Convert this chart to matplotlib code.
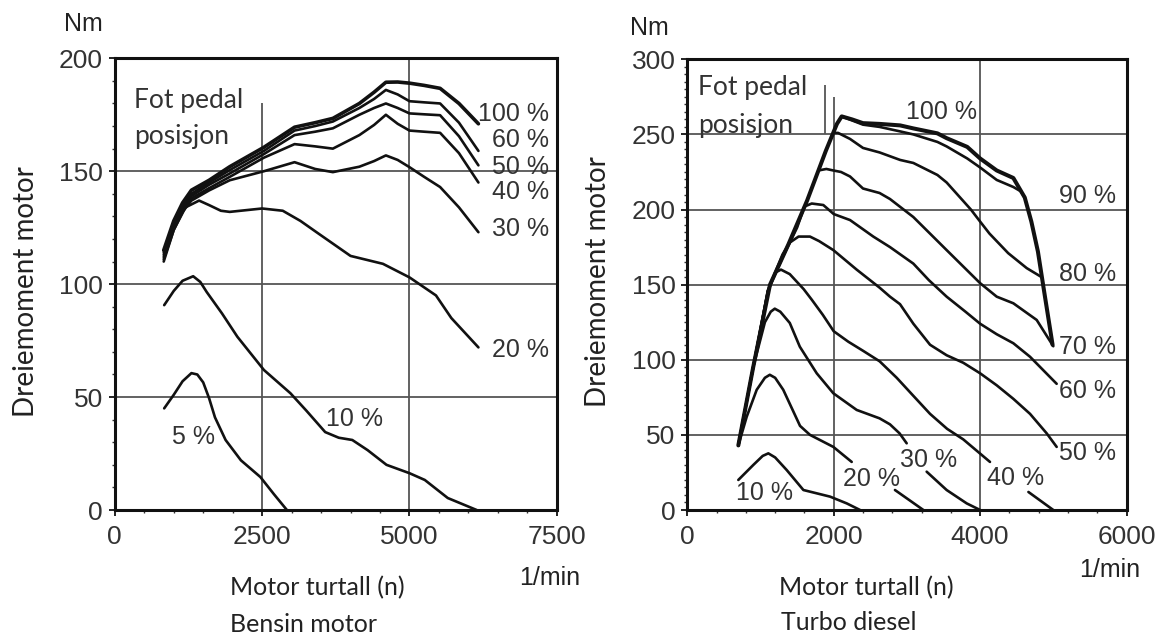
import matplotlib.pyplot as plt
import numpy as np

plt.rcParams["font.family"] = ["Liberation Sans", "DejaVu Sans"]

# ---------------- Bensin motor (left) ----------------
bensin_rpm = [830, 1000, 1150, 1300, 1600, 1950, 2530, 3050, 3400, 3700, 4150, 4400, 4600, 4800,
              5000, 5250, 5520, 5840, 6170]
bensin_100 = [115, 128, 136, 141.6, 146, 152, 160.6, 169.5, 171.5, 173.4, 180, 185, 189.4, 189.5,
              189, 188, 186.7, 180, 171]
bensin_60 = [114, 127, 135, 140, 145, 150.5, 159, 168, 170, 172, 178, 182, 186, 184,
             181, 180.5, 180, 171.5, 159]
bensin_50 = [113, 126, 134, 139, 144, 149, 157.6, 166, 167.5, 169, 175, 178, 180, 178,
             175.6, 175.2, 174.8, 165.5, 152.6]
bensin_40 = [112, 125, 133, 138, 142.5, 147.5, 156, 162, 161, 160, 166, 170.5, 175, 171,
             168, 167.5, 167, 158, 145]
bensin_30 = [111, 124, 132, 137, 141.5, 146, 150, 154, 151, 149.6, 152, 154.5, 157, 155,
             151.8, 147.5, 143, 134, 123]

bensin_20_rpm = [830, 1000, 1200, 1430, 1600, 1800, 1950, 2500, 2850, 3150, 3450, 4000, 4550, 5000,
                 5450, 5710, 6170]
bensin_20 = [110, 124, 134, 137, 135, 132.5, 132, 133.5, 132.5, 128, 122.5, 112.5, 109, 103,
             95, 85, 72]

bensin_10_rpm = [838, 1000, 1150, 1330, 1450, 1560, 1820, 2080, 2530, 2980, 3250, 3570, 3800, 4030,
                 4290, 4610, 5000, 5260, 5650, 6140]
bensin_10 = [90.7, 97, 101.5, 103.5, 101, 96.5, 87, 76.7, 62, 51.7, 44, 34.5, 32, 31,
             26.5, 20, 16.3, 13.3, 5.3, 0]

bensin_5_rpm = [838, 1000, 1150, 1300, 1400, 1500, 1600, 1700, 1880, 2140, 2470, 2700, 2920]
bensin_5 = [45, 51, 57, 60.6, 60, 56.5, 49.5, 41, 31, 22, 14.6, 7, 0]

bensin_labels = ["100 %", "60 %", "50 %", "40 %", "30 %", "20 %", "10 %", "5 %"]

# ---------------- Turbo diesel (right) ----------------
diesel_100_rpm = [697, 900, 1130, 1383, 1637, 1892, 2044, 2109, 2250, 2400, 2627, 2908, 3088,
                  3417, 3543, 3824, 4000, 4227, 4454, 4610, 4700, 4790, 4870, 4990]
diesel_100 = [43, 95, 150, 177, 206, 239, 257, 262, 260, 257.5, 257, 256, 254,
              250.7, 247.5, 241.7, 234, 226, 221, 208, 192, 172, 147, 110]

diesel_90_rpm = [2109, 2400, 2627, 2908, 3088, 3417, 3543, 3824, 4000, 4227, 4454, 4560, 4610]
diesel_90 = [262, 256.5, 255, 252, 250, 245, 242, 234, 228, 219.7, 215, 212, 208]

diesel_80_rpm = [1995, 2060, 2223, 2400, 2627, 2908, 3088, 3417, 3543, 3874, 4000, 4128, 4383, 4637, 4841]
diesel_80 = [251, 251, 247, 241, 238, 233, 231, 223, 218, 200, 192, 184, 171, 161, 155]

diesel_70_rpm = [1790, 1900, 1995, 2100, 2223, 2400, 2627, 2769, 3088, 3543, 4000, 4227, 4454, 4773, 5000]
diesel_70 = [226, 227, 226, 225, 222, 214, 211, 207, 195, 173, 151, 142, 137.6, 126.5, 109]

diesel_60_rpm = [697, 900, 1100, 1300, 1500, 1600, 1700, 1858, 2000, 2223, 2541, 2769, 3088, 3300,
                 3543, 3800, 4000, 4227, 4454, 4682, 5046]
diesel_60 = [43, 95, 146, 168, 188, 202, 204, 203, 197, 193, 182, 175, 164, 153,
             142, 132, 124, 117, 111, 102, 84]

diesel_50_rpm = [697, 900, 1100, 1300, 1400, 1520, 1676, 1800, 1995, 2314, 2627, 2769, 2906, 3088, 3316,
                 3543, 3770, 4000, 4227, 4454, 4682, 4910, 5046]
diesel_50 = [43, 95, 146, 170, 178, 182, 182, 179, 173, 160, 148, 142, 137, 124, 110,
             103, 98, 91, 83, 74, 64, 51, 42]

diesel_40_rpm = [697, 900, 1100, 1200, 1280, 1400, 1590, 1700, 1850, 2000, 2200, 2400, 2627, 2861,
                 3088, 3316, 3550, 3770, 4135]
diesel_40 = [43, 95, 145, 158, 160, 157, 147, 140, 130, 119, 112, 106, 99, 88,
             76, 64, 54, 47, 32]
diesel_40b_rpm = [4660, 5000]
diesel_40b = [12, 0]

diesel_30_rpm = [697, 900, 1060, 1140, 1195, 1270, 1400, 1537, 1768, 1995, 2314, 2627, 2769, 2900, 2997]
diesel_30 = [43, 95, 125, 132, 134, 132, 124.5, 108.7, 91, 77.7, 66.6, 61, 57, 51, 44.4]
diesel_30b_rpm = [3270, 3543, 3817, 4000]
diesel_30b = [25.5, 13.3, 4.4, 0]

diesel_20_rpm = [697, 811, 948, 1060, 1127, 1200, 1311, 1540, 1676, 1995, 2246]
diesel_20 = [43, 62, 80, 88, 90, 88, 80, 56, 50, 42, 32]
diesel_20b_rpm = [2837, 3225]
diesel_20b = [13.3, 0]

diesel_10_rpm = [697, 902, 1030, 1107, 1200, 1358, 1586, 1950, 2178, 2360]
diesel_10 = [20, 30, 36, 37.7, 35, 26.6, 13.3, 8.9, 4.4, 0]

diesel_labels = ["100 %", "90 %", "80 %", "70 %", "60 %", "50 %", "40 %", "30 %", "20 %", "10 %"]

# ---------------- figure ----------------
W, H = 1164, 637
fig = plt.figure(figsize=(W / 100, H / 100), dpi=100)


def px_rect(x0, y0, x1, y1):
    return [x0 / W, 1 - y1 / H, (x1 - x0) / W, (y1 - y0) / H]


def fig_xy(x, y):
    return x / W, 1 - y / H


ax1 = fig.add_axes(px_rect(114.8, 58.3, 556.8, 510))
ax2 = fig.add_axes(px_rect(687.3, 59.3, 1126.5, 510))

grid_kw = dict(color="#555555", lw=1.3, zorder=1)
line_kw = dict(color="#111111", lw=1.9, solid_joinstyle="round", solid_capstyle="round", zorder=3)
pct_kw = dict(fontsize=18, color="#333333", va="center")
cal = ["Lato", "DejaVu Sans"]


def style_axes(ax, xmax, ymax, xmaj, xmin, ymaj, ymin):
    ax.set_xlim(0, xmax)
    ax.set_ylim(0, ymax)
    ax.set_xticks(np.arange(0, xmax + 1, xmaj))
    ax.set_xticks(np.arange(0, xmax + 1, xmin), minor=True)
    ax.set_yticks(np.arange(0, ymax + 1, ymaj))
    ax.set_yticks(np.arange(0, ymax + 1, ymin), minor=True)
    ax.tick_params(which="major", direction="out", length=4.5, width=1.3,
                   labelsize=19, colors="#111111", labelcolor="#333333")
    ax.tick_params(axis="x", which="major", pad=6)
    ax.tick_params(axis="y", which="major", pad=4)
    ax.tick_params(which="minor", direction="out", length=2.2, width=1.0, colors="#333333")
    for s in ax.spines.values():
        s.set_linewidth(2.2)
        s.set_color("#111111")


# ----- left: Bensin motor -----
style_axes(ax1, 7500, 200, 2500, 500, 50, 10)
for yv in [50, 100, 150]:
    ax1.axhline(yv, **grid_kw)
ax1.vlines(5000, 0, 200, **grid_kw)
ax1.vlines(2500, 0, 180, **grid_kw)

ax1.plot(bensin_rpm, bensin_100, **{**line_kw, "lw": 2.6})
for ys in [bensin_60, bensin_50, bensin_40, bensin_30]:
    ax1.plot(bensin_rpm, ys, **line_kw)
ax1.plot(bensin_20_rpm, bensin_20, **line_kw)
ax1.plot(bensin_10_rpm, bensin_10, **line_kw)
ax1.plot(bensin_5_rpm, bensin_5, **line_kw)

ax1.text(6164, 175.4, bensin_labels[0], ha="left", **pct_kw)
for lab, yv in zip(bensin_labels[1:6], [163.9, 151.9, 140.8, 124.4, 70.9]):
    ax1.text(6402, yv, lab, ha="left", **pct_kw)
ax1.text(4059, 40.3, bensin_labels[6], ha="center", **pct_kw)
ax1.text(1343, 32.3, bensin_labels[7], ha="center", **pct_kw)

ax1.text(326, 178, "Fot pedal", family=cal, fontsize=19, color="#333333", va="baseline")
ax1.text(326, 162, "posisjon", family=cal, fontsize=19, color="#333333", va="baseline")

# ----- right: Turbo diesel -----
style_axes(ax2, 6000, 300, 2000, 400, 50, 5)
for yv in [50, 100, 150, 200, 250]:
    ax2.axhline(yv, **grid_kw)
ax2.vlines(4000, 0, 300, **grid_kw)
ax2.vlines(2000, 0, 275, **grid_kw)
ax2.vlines(1879, 250, 283, **grid_kw)

ax2.plot(diesel_100_rpm, diesel_100, **{**line_kw, "lw": 2.9})
ax2.plot(diesel_90_rpm, diesel_90, **line_kw)
ax2.plot(diesel_80_rpm, diesel_80, **line_kw)
ax2.plot(diesel_70_rpm, diesel_70, **line_kw)
ax2.plot(diesel_60_rpm, diesel_60, **line_kw)
ax2.plot(diesel_50_rpm, diesel_50, **line_kw)
ax2.plot(diesel_40_rpm, diesel_40, **line_kw)
ax2.plot(diesel_40b_rpm, diesel_40b, **line_kw)
ax2.plot(diesel_30_rpm, diesel_30, **line_kw)
ax2.plot(diesel_30b_rpm, diesel_30b, **line_kw)
ax2.plot(diesel_20_rpm, diesel_20, **line_kw)
ax2.plot(diesel_20b_rpm, diesel_20b, **line_kw)
ax2.plot(diesel_10_rpm, diesel_10, **line_kw)

ax2.text(3473, 264.6, diesel_labels[0], ha="center", **pct_kw)
for lab, yv in zip(diesel_labels[1:6], [209, 157, 108.2, 79, 38]):
    ax2.text(5072, yv, lab, ha="left", **pct_kw)
for lab, xv, yv in zip(diesel_labels[6:], [4484, 3302, 2510, 1061], [21.3, 33.3, 20.6, 11.3]):
    ax2.text(xv, yv, lab, ha="center", **pct_kw)

ax2.text(146, 276, "Fot pedal", family=cal, fontsize=19, color="#333333", va="baseline")
ax2.text(146, 251, "posisjon", family=cal, fontsize=19, color="#333333", va="baseline")

# ----- outer texts -----
for (x, y) in [(83, 24), (649, 28)]:
    fig.text(*fig_xy(x, y), "Nm", fontsize=18, color="#222222", ha="center", va="center")
for (x, y) in [(550, 578), (1110, 570)]:
    fig.text(*fig_xy(x, y), "1/min", fontsize=18, color="#222222", ha="center", va="center")
for (x, y, s) in [(230, 588, "Motor turtall (n)"), (779, 588, "Motor turtall (n)"),
                  (230, 624, "Bensin motor"), (781, 623, "Turbo diesel")]:
    fig.text(*fig_xy(x, y), s, family=cal, fontsize=18, color="#222222", ha="left", va="center")
for (x, y) in [(26, 292), (598, 282)]:
    fig.text(*fig_xy(x, y), "Dreiemoment motor", family=cal, fontsize=20, color="#222222",
             rotation=90, ha="center", va="center")

fig.savefig("out.png", dpi=100)
